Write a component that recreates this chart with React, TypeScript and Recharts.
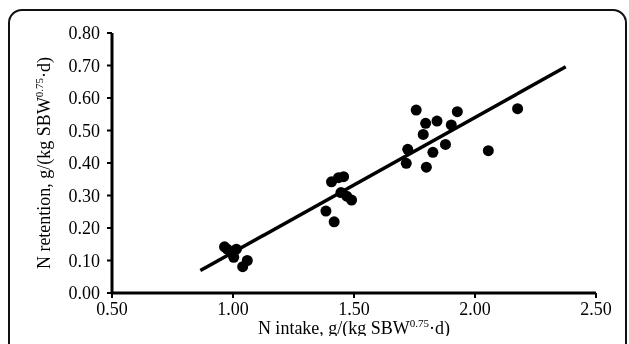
import React from 'react';
import { ComposedChart, Scatter, XAxis, YAxis, ReferenceLine } from 'recharts';

const nIntake = [0.965, 0.976, 1.003, 0.995, 1.014, 1.059, 1.040, 1.384, 1.418, 1.407, 1.436, 1.457, 1.446, 1.470, 1.490, 1.716, 1.722, 1.757, 1.786, 1.796, 1.799, 1.826, 1.843, 1.878, 1.902, 1.927, 2.055, 2.176];
const nRetention = [0.142, 0.135, 0.110, 0.125, 0.135, 0.100, 0.081, 0.252, 0.219, 0.342, 0.355, 0.358, 0.309, 0.298, 0.286, 0.399, 0.442, 0.563, 0.488, 0.522, 0.387, 0.433, 0.529, 0.457, 0.517, 0.558, 0.438, 0.567];
const fitLine = [
  { x: 0.865, y: 0.069 },
  { x: 2.375, y: 0.696 },
];
const xTicks = [0.5, 1.0, 1.5, 2.0, 2.5];
const yTicks = [0, 0.1, 0.2, 0.3, 0.4, 0.5, 0.6, 0.7, 0.8];

const points = nIntake.map((x, i) => ({ x, y: nRetention[i] }));

const FONT = 'Liberation Serif, Times New Roman, serif';

const XLabel = (props: any) => {
  const vb = props.viewBox || {};
  const cx = vb.x + vb.width / 2;
  const y = vb.y + 41;
  return (
    <text x={cx} y={y} textAnchor="middle" fontFamily={FONT} fontSize={18} fill="#000">
      <tspan>N intake, g/(kg SBW</tspan>
      <tspan fontSize={11} dy={-7}>0.75</tspan>
      <tspan dy={7}>·d)</tspan>
    </text>
  );
};

const YLabel = (props: any) => {
  const vb = props.viewBox || {};
  const cy = vb.y + vb.height / 2;
  const x = 42;
  return (
    <text x={x} y={cy} textAnchor="middle" fontFamily={FONT} fontSize={18} fill="#000" transform={`rotate(-90, ${x}, ${cy})`}>
      <tspan>N retention, g/(kg SBW</tspan>
      <tspan fontSize={11} dy={-7}>0.75</tspan>
      <tspan dy={7}>·d)</tspan>
    </text>
  );
};

export default function App() {
  return (
    <div style={{ position: 'relative', width: 621, height: 328 }}>
      <div
        style={{
          position: 'fixed',
          left: 8,
          top: 9,
          width: 619,
          height: 380,
          border: '2px solid #111',
          borderRadius: 14,
          boxSizing: 'border-box',
          pointerEvents: 'none',
        }}
      />
      <ComposedChart width={621} height={336} margin={{ top: 25, right: 33, bottom: 8, left: 0 }}>
        <XAxis
          type="number"
          dataKey="x"
          domain={[0.5, 2.5]}
          ticks={xTicks}
          allowDataOverflow
          tickFormatter={(v: number) => v.toFixed(2)}
          axisLine={{ stroke: '#000', strokeWidth: 3 }}
          tickLine={{ stroke: '#000', strokeWidth: 2 }}
          tickSize={5}
          tickMargin={4}
          height={43}
          tick={{ fill: '#000', fontFamily: FONT, fontSize: 18 }}
          label={<XLabel />}
        />
        <YAxis
          type="number"
          dataKey="y"
          domain={[0, 0.8]}
          ticks={yTicks}
          allowDataOverflow
          tickFormatter={(v: number) => v.toFixed(2)}
          axisLine={{ stroke: '#000', strokeWidth: 3 }}
          tickLine={{ stroke: '#000', strokeWidth: 2 }}
          tickSize={5}
          tickMargin={7}
          width={104}
          tick={{ fill: '#000', fontFamily: FONT, fontSize: 18 }}
          label={<YLabel />}
        />
        <ReferenceLine segment={fitLine} stroke="#000" strokeWidth={3.5} ifOverflow="visible" />
        <Scatter data={points} fill="#000" isAnimationActive={false} shape={(p: any) => <circle cx={p.cx} cy={p.cy} r={5.5} fill="#000" />} />
      </ComposedChart>
    </div>
  );
}
